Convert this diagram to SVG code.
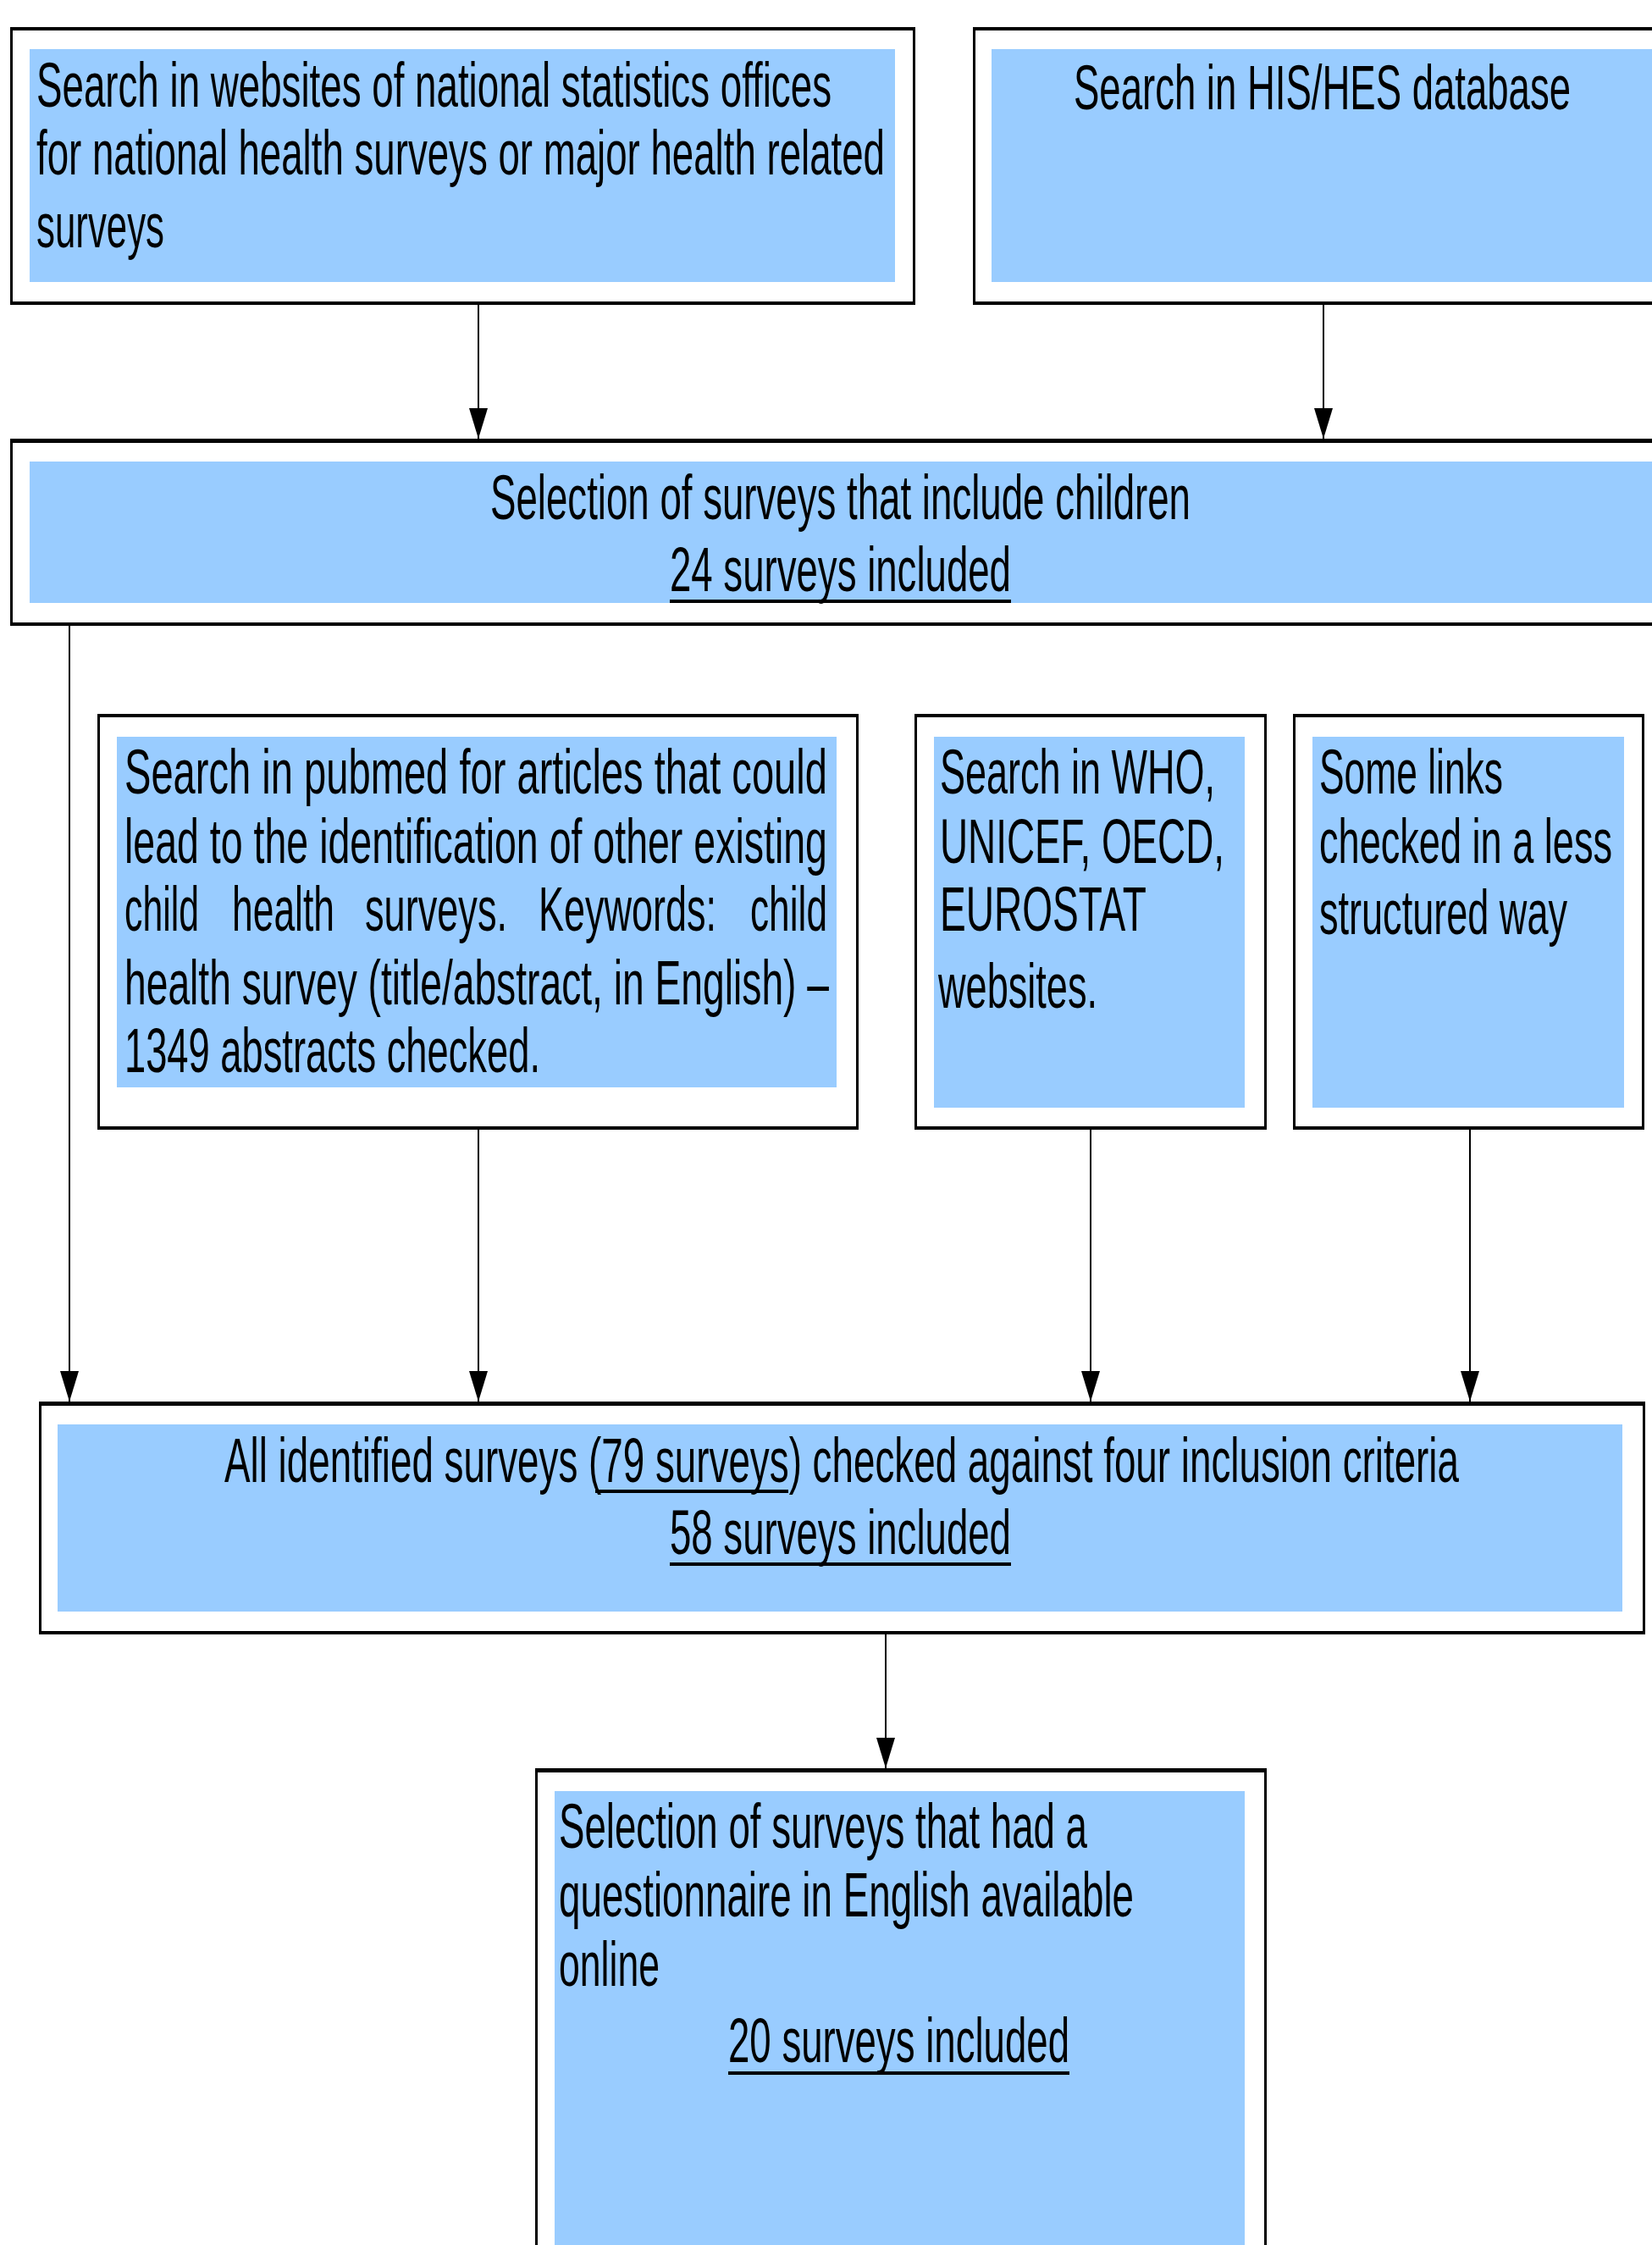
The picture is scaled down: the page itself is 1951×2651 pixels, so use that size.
<svg xmlns="http://www.w3.org/2000/svg" width="1951" height="2651" viewBox="0 0 1951 2651">
<style>
.frame{fill:#000}
.inner{fill:#fff}
.fill{fill:#99ccff}
text{font-family:"Liberation Sans",Arial,sans-serif;font-size:46px;fill:#000}
.conn{stroke:#000;stroke-width:2;fill:none}
.ul{fill:#000}
</style>
<defs>
<marker id="arr" markerUnits="userSpaceOnUse" markerWidth="36" markerHeight="22" viewBox="0 0 36 22" refX="36" refY="11" orient="auto"><path d="M0,0 L36,11 L0,22 Z" fill="#000"/></marker>
</defs>
<rect width="1951" height="2651" fill="#fff"/>

<g id="node-national-offices">
<rect class="frame" x="12" y="32" width="1069" height="328"/>
<rect class="inner" x="15" y="36" width="1063" height="320"/>
<rect class="fill" x="35" y="58" width="1022" height="275"/>
<text transform="translate(0,126) scale(1,1.6)" x="43" y="0" textLength="939" lengthAdjust="spacingAndGlyphs">Search in websites of national statistics offices</text>
<text transform="translate(0,206) scale(1,1.6)" x="43" y="0" textLength="1002" lengthAdjust="spacingAndGlyphs">for national health surveys or major health related</text>
<text transform="translate(0,292) scale(1,1.6)" x="43" y="0" textLength="151" lengthAdjust="spacingAndGlyphs">surveys</text>
</g>

<g id="node-his-hes">
<rect class="frame" x="1149" y="32" width="830" height="328"/>
<rect class="inner" x="1152" y="36" width="830" height="320"/>
<rect class="fill" x="1171" y="58" width="800" height="275"/>
<text transform="translate(0,129) scale(1,1.6)" x="1268" y="0" textLength="587" lengthAdjust="spacingAndGlyphs">Search in HIS/HES database</text>
</g>

<g id="node-children">
<rect class="frame" x="12" y="518" width="1970" height="221"/>
<rect class="inner" x="15" y="523" width="1970" height="212"/>
<rect class="fill" x="35" y="545" width="1940" height="167"/>
<text transform="translate(0,613) scale(1,1.6)" x="579" y="0" textLength="827" lengthAdjust="spacingAndGlyphs">Selection of surveys that include children</text>
<text transform="translate(0,698) scale(1,1.6)" x="791" y="0" textLength="403" lengthAdjust="spacingAndGlyphs">24 surveys included</text>
<rect class="ul" x="791" y="708" width="403" height="4"/>
</g>

<g id="node-pubmed">
<rect class="frame" x="115" y="843" width="899" height="491"/>
<rect class="inner" x="118" y="847" width="893" height="483"/>
<rect class="fill" x="138" y="870" width="850" height="414"/>
<text transform="translate(0,937) scale(1,1.6)" x="147" y="0" textLength="830" lengthAdjust="spacingAndGlyphs">Search in pubmed for articles that could</text>
<text transform="translate(0,1019) scale(1,1.6)" x="147" y="0" textLength="830" lengthAdjust="spacingAndGlyphs">lead to the identification of other existing</text>
<text transform="translate(0,1099) scale(1,1.6)" y="0"><tspan x="147" textLength="88" lengthAdjust="spacingAndGlyphs">child</tspan> <tspan x="274" textLength="121" lengthAdjust="spacingAndGlyphs">health</tspan> <tspan x="431" textLength="168" lengthAdjust="spacingAndGlyphs">surveys.</tspan> <tspan x="636" textLength="210" lengthAdjust="spacingAndGlyphs">Keywords:</tspan> <tspan x="886" textLength="91" lengthAdjust="spacingAndGlyphs">child</tspan></text>
<text transform="translate(0,1186) scale(1,1.6)" x="147" y="0" textLength="832" lengthAdjust="spacingAndGlyphs">health survey (title/abstract, in English) –</text>
<text transform="translate(0,1266) scale(1,1.6)" x="147" y="0" textLength="491" lengthAdjust="spacingAndGlyphs">1349 abstracts checked.</text>
</g>

<g id="node-who">
<rect class="frame" x="1080" y="843" width="416" height="491"/>
<rect class="inner" x="1083" y="847" width="410" height="483"/>
<rect class="fill" x="1103" y="870" width="367" height="438"/>
<text transform="translate(0,937) scale(1,1.6)" x="1110" y="0" textLength="325" lengthAdjust="spacingAndGlyphs">Search in WHO,</text>
<text transform="translate(0,1019) scale(1,1.6)" x="1110" y="0" textLength="336" lengthAdjust="spacingAndGlyphs">UNICEF, OECD,</text>
<text transform="translate(0,1099) scale(1,1.6)" x="1110" y="0" textLength="244" lengthAdjust="spacingAndGlyphs">EUROSTAT</text>
<text transform="translate(0,1190) scale(1,1.6)" x="1108" y="0" textLength="188" lengthAdjust="spacingAndGlyphs">websites.</text>
</g>

<g id="node-links">
<rect class="frame" x="1527" y="843" width="415" height="491"/>
<rect class="inner" x="1530" y="847" width="409" height="483"/>
<rect class="fill" x="1550" y="870" width="368" height="438"/>
<text transform="translate(0,937) scale(1,1.6)" x="1558" y="0" textLength="217" lengthAdjust="spacingAndGlyphs">Some links</text>
<text transform="translate(0,1019) scale(1,1.6)" x="1558" y="0" textLength="346" lengthAdjust="spacingAndGlyphs">checked in a less</text>
<text transform="translate(0,1103) scale(1,1.6)" x="1558" y="0" textLength="293" lengthAdjust="spacingAndGlyphs">structured way</text>
</g>

<g id="node-criteria">
<rect class="frame" x="46" y="1655" width="1897" height="275"/>
<rect class="inner" x="49" y="1660" width="1891" height="266"/>
<rect class="fill" x="68" y="1682" width="1848" height="221"/>
<text transform="translate(0,1750) scale(1,1.6)" x="265" y="0" textLength="1458" lengthAdjust="spacingAndGlyphs">All identified surveys (79 surveys) checked against four inclusion criteria</text>
<rect class="ul" x="703" y="1759" width="228" height="4"/>
<text transform="translate(0,1835) scale(1,1.6)" x="791" y="0" textLength="403" lengthAdjust="spacingAndGlyphs">58 surveys included</text>
<rect class="ul" x="791" y="1845" width="403" height="4"/>
</g>

<g id="node-english">
<rect class="frame" x="632" y="2088" width="864" height="700"/>
<rect class="inner" x="635" y="2093" width="858" height="700"/>
<rect class="fill" x="655" y="2115" width="815" height="700"/>
<text transform="translate(0,2182) scale(1,1.6)" x="660" y="0" textLength="624" lengthAdjust="spacingAndGlyphs">Selection of surveys that had a</text>
<text transform="translate(0,2263) scale(1,1.6)" x="660" y="0" textLength="679" lengthAdjust="spacingAndGlyphs">questionnaire in English available</text>
<text transform="translate(0,2345) scale(1,1.6)" x="660" y="0" textLength="119" lengthAdjust="spacingAndGlyphs">online</text>
<text transform="translate(0,2435) scale(1,1.6)" x="860" y="0" textLength="403" lengthAdjust="spacingAndGlyphs">20 surveys included</text>
<rect class="ul" x="860" y="2446" width="403" height="4"/>
</g>

<g id="connectors">
<line class="conn" x1="565" y1="360" x2="565" y2="518" marker-end="url(#arr)"/>
<line class="conn" x1="1563" y1="360" x2="1563" y2="518" marker-end="url(#arr)"/>
<line class="conn" x1="82" y1="739" x2="82" y2="1655" marker-end="url(#arr)"/>
<line class="conn" x1="565" y1="1334" x2="565" y2="1655" marker-end="url(#arr)"/>
<line class="conn" x1="1288" y1="1334" x2="1288" y2="1655" marker-end="url(#arr)"/>
<line class="conn" x1="1736" y1="1334" x2="1736" y2="1655" marker-end="url(#arr)"/>
<line class="conn" x1="1046" y1="1930" x2="1046" y2="2088" marker-end="url(#arr)"/>
</g>
</svg>
